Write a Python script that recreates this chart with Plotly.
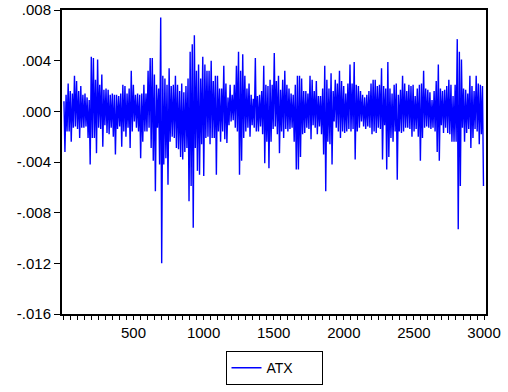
import numpy as np
import plotly.graph_objects as go

bin_size = 15
atx_high = [
    0.0008, 0.0013, 0.0022, 0.0016, 0.0014, 0.0028, 0.0024, 0.0016, 0.0020, 0.0013,
    0.0014, 0.0011, 0.0009, 0.0043, 0.0042, 0.0025, 0.0041, 0.0021, 0.0029, 0.0017,
    0.0018, 0.0017, 0.0013, 0.0014, 0.0013, 0.0013, 0.0012, 0.0014, 0.0021, 0.0020,
    0.0014, 0.0018, 0.0032, 0.0021, 0.0013, 0.0014, 0.0013, 0.0014, 0.0021, 0.0014,
    0.0032, 0.0042, 0.0042, 0.0029, 0.0021, 0.0018, 0.0074, 0.0028, 0.0026, 0.0021,
    0.0034, 0.0020, 0.0021, 0.0028, 0.0021, 0.0016, 0.0022, 0.0015, 0.0020, 0.0026,
    0.0047, 0.0053, 0.0060, 0.0032, 0.0037, 0.0026, 0.0043, 0.0037, 0.0032, 0.0032,
    0.0040, 0.0024, 0.0028, 0.0028, 0.0018, 0.0018, 0.0036, 0.0022, 0.0011, 0.0021,
    0.0013, 0.0021, 0.0036, 0.0047, 0.0032, 0.0045, 0.0028, 0.0018, 0.0022, 0.0013,
    0.0010, 0.0042, 0.0012, 0.0013, 0.0016, 0.0036, 0.0021, 0.0020, 0.0025, 0.0021,
    0.0046, 0.0024, 0.0028, 0.0017, 0.0025, 0.0032, 0.0021, 0.0018, 0.0014, 0.0013,
    0.0021, 0.0028, 0.0028, 0.0026, 0.0016, 0.0016, 0.0014, 0.0028, 0.0025, 0.0016,
    0.0024, 0.0012, 0.0012, 0.0018, 0.0036, 0.0025, 0.0018, 0.0030, 0.0016, 0.0025,
    0.0022, 0.0032, 0.0024, 0.0020, 0.0014, 0.0022, 0.0037, 0.0022, 0.0039, 0.0021,
    0.0020, 0.0016, 0.0013, 0.0011, 0.0013, 0.0016, 0.0022, 0.0025, 0.0025, 0.0020,
    0.0021, 0.0034, 0.0020, 0.0018, 0.0039, 0.0018, 0.0014, 0.0021, 0.0022, 0.0013,
    0.0017, 0.0028, 0.0022, 0.0016, 0.0021, 0.0020, 0.0021, 0.0012, 0.0018, 0.0021,
    0.0022, 0.0032, 0.0018, 0.0017, 0.0015, 0.0009, 0.0016, 0.0024, 0.0037, 0.0018,
    0.0016, 0.0017, 0.0020, 0.0025, 0.0021, 0.0012, 0.0021, 0.0057, 0.0047, 0.0041,
    0.0018, 0.0017, 0.0014, 0.0028, 0.0020, 0.0016, 0.0028, 0.0022, 0.0021, 0.0020,
]
atx_low = [
    -0.0032, -0.0016, -0.0016, -0.0024, -0.0013, -0.0012, -0.0014, -0.0021, -0.0013, -0.0013,
    -0.0012, -0.0021, -0.0042, -0.0021, -0.0021, -0.0033, -0.0013, -0.0014, -0.0028, -0.0011,
    -0.0017, -0.0018, -0.0013, -0.0020, -0.0034, -0.0014, -0.0012, -0.0028, -0.0016, -0.0020,
    -0.0013, -0.0029, -0.0016, -0.0008, -0.0013, -0.0016, -0.0037, -0.0024, -0.0016, -0.0016,
    -0.0013, -0.0029, -0.0039, -0.0063, -0.0013, -0.0042, -0.0120, -0.0042, -0.0037, -0.0058,
    -0.0024, -0.0020, -0.0021, -0.0029, -0.0030, -0.0036, -0.0038, -0.0032, -0.0029, -0.0071,
    -0.0059, -0.0092, -0.0029, -0.0047, -0.0050, -0.0026, -0.0051, -0.0021, -0.0020, -0.0026,
    -0.0021, -0.0021, -0.0050, -0.0016, -0.0024, -0.0016, -0.0022, -0.0025, -0.0011, -0.0008,
    -0.0007, -0.0013, -0.0016, -0.0050, -0.0039, -0.0021, -0.0016, -0.0013, -0.0020, -0.0011,
    -0.0013, -0.0016, -0.0016, -0.0012, -0.0018, -0.0041, -0.0024, -0.0045, -0.0024, -0.0014,
    -0.0012, -0.0018, -0.0033, -0.0016, -0.0021, -0.0014, -0.0016, -0.0014, -0.0013, -0.0024,
    -0.0046, -0.0046, -0.0036, -0.0018, -0.0017, -0.0013, -0.0014, -0.0022, -0.0011, -0.0013,
    -0.0018, -0.0012, -0.0018, -0.0034, -0.0063, -0.0024, -0.0026, -0.0042, -0.0008, -0.0013,
    -0.0016, -0.0021, -0.0016, -0.0017, -0.0016, -0.0014, -0.0016, -0.0014, -0.0038, -0.0016,
    -0.0013, -0.0008, -0.0012, -0.0014, -0.0012, -0.0013, -0.0018, -0.0016, -0.0017, -0.0013,
    -0.0014, -0.0038, -0.0011, -0.0046, -0.0036, -0.0021, -0.0024, -0.0016, -0.0054, -0.0016,
    -0.0017, -0.0016, -0.0013, -0.0013, -0.0014, -0.0020, -0.0016, -0.0014, -0.0020, -0.0039,
    -0.0021, -0.0013, -0.0012, -0.0013, -0.0014, -0.0013, -0.0016, -0.0032, -0.0039, -0.0011,
    -0.0017, -0.0013, -0.0017, -0.0018, -0.0024, -0.0024, -0.0024, -0.0093, -0.0059, -0.0013,
    -0.0024, -0.0017, -0.0014, -0.0029, -0.0021, -0.0014, -0.0016, -0.0026, -0.0018, -0.0059,
]
y_tickvals = [0.008, 0.004, 0.0, -0.004, -0.008, -0.012, -0.016]
y_ticktext = [".008", ".004", ".000", "-.004", "-.008", "-.012", "-.016"]
x_tickvals = [500, 1000, 1500, 2000, 2500, 3000]
series_name = "ATX"

obs, vals = [], []
for i, (h, l) in enumerate(zip(atx_high, atx_low)):
    start = i * bin_size
    obs += [start + 4, start + 11]
    vals += [h, l]

fig = go.Figure()
fig.add_trace(go.Scatter(x=obs, y=vals, mode="lines", name=series_name,
                         line=dict(color="#0000ff", width=1.4)))

font = dict(family="Liberation Sans, Arial, sans-serif", size=15, color="black")
fig.update_layout(
    width=508, height=392,
    margin=dict(l=62, r=22, t=10, b=78, autoexpand=False),
    paper_bgcolor="white", plot_bgcolor="white",
    font=font,
    showlegend=True,
    legend=dict(orientation="h", x=0.5, xanchor="center", y=-0.122, yanchor="top",
                bordercolor="black", borderwidth=1,
                font=dict(family="Liberation Sans, Arial, sans-serif", size=14, color="black"),
                itemwidth=30, entrywidth=50, tracegroupgap=0),
)
fig.update_xaxes(range=[-10, 3014], tickvals=x_tickvals, ticks="outside", ticklen=4,
                 tickcolor="black", showline=True, linecolor="black", linewidth=2,
                 mirror=True, showgrid=False, zeroline=False,
                 minor=dict(dtick=50, tick0=0, ticks="outside", ticklen=4, tickcolor="black"))
fig.update_yaxes(range=[-0.016, 0.008], tickvals=y_tickvals, ticktext=y_ticktext,
                 ticks="outside", ticklen=6, tickcolor="black", showline=True,
                 linecolor="black", linewidth=2, mirror=True, showgrid=False,
                 zeroline=False)
fig.write_html("out.html", config={"displayModeBar": False},
               post_script="document.body.style.margin='0';document.body.style.overflow='hidden';")
